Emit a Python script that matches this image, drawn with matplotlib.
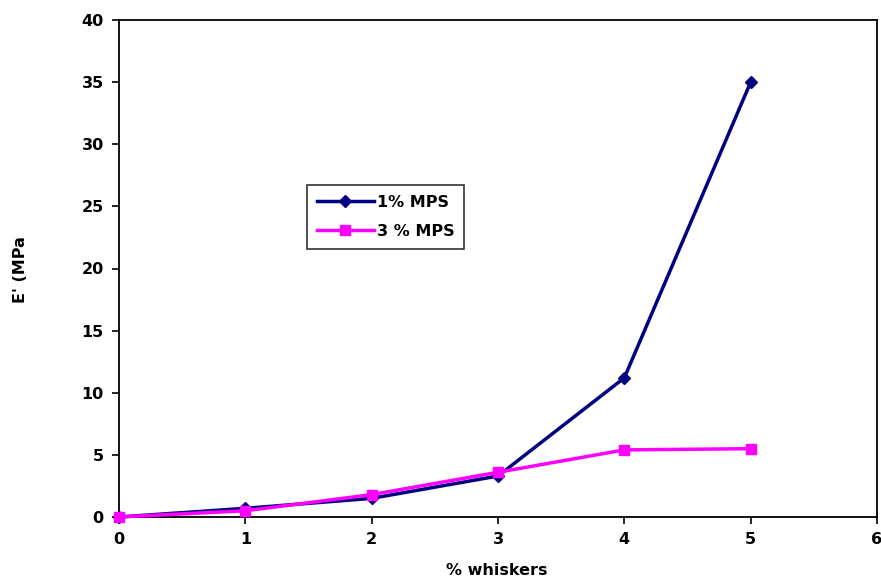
import matplotlib.pyplot as plt

# data
whiskers = [0, 1, 2, 3, 4, 5]
mps_1 = [0.0, 0.7, 1.5, 3.3, 11.2, 35.0]
mps_3 = [0.0, 0.5, 1.8, 3.6, 5.4, 5.5]

plt.rcParams["font.family"] = ["DejaVu Sans"]
plt.rcParams["font.weight"] = "bold"

fig = plt.figure(figsize=(8.81, 5.81), dpi=100)
ax = fig.add_axes([119 / 881, 1 - 517 / 581, (877 - 119) / 881, (517 - 20) / 581])

ax.plot(whiskers, mps_1, color="#000080", lw=2.5, marker="D", ms=6,
        label="1% MPS", clip_on=False, zorder=3)
ax.plot(whiskers, mps_3, color="#ff00ff", lw=2.5, marker="s", ms=7,
        label="3 % MPS", clip_on=False, zorder=3)

ax.set_xlim(0, 6)
ax.set_ylim(0, 40)
ax.set_xticks(range(0, 7))
ax.set_yticks(range(0, 41, 5))
ax.tick_params(direction="out", length=5, width=1.2, labelsize=11.5, pad=6)
for s in ax.spines.values():
    s.set_linewidth(1.3)

ax.set_xlabel("% whiskers", fontsize=11.5, fontweight="bold")
ax.xaxis.set_label_coords(0.499, -0.092)
ax.set_ylabel("E' (MPa", fontsize=11.5, fontweight="bold")
ax.yaxis.set_label_coords(-0.12, 0.497)

leg = ax.legend(loc="upper left", bbox_to_anchor=(0.248, 0.668), frameon=True,
                fancybox=False, edgecolor="black", fontsize=11.5,
                handlelength=3.6, borderpad=0.6, labelspacing=0.9,
                handletextpad=0.2, borderaxespad=0)
leg.get_frame().set_linewidth(1.2)

fig.savefig("out.png", dpi=100)
